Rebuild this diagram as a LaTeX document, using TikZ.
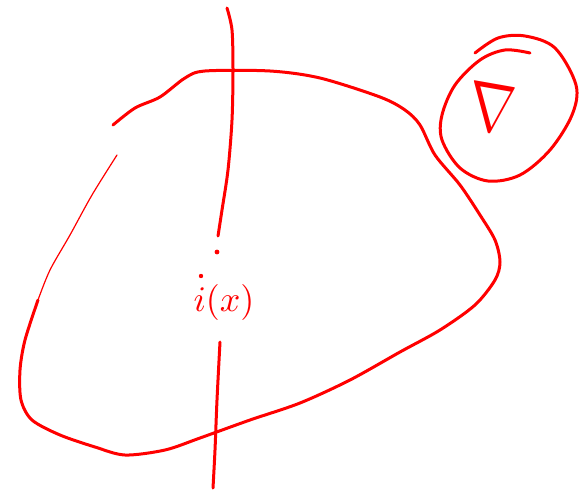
\documentclass[tikz,border=0pt]{standalone}
\usepackage{amsmath,amssymb}
\begin{document}
\begin{tikzpicture}[x=1pt,y=-1pt,
  ink/.style={draw=red,line width=3pt,line cap=round,line join=round},
  thinink/.style={draw=red,line width=1.2pt,line cap=round},
  lbl/.style={text=red,inner sep=0pt}]
\useasboundingbox (0,0) rectangle (586,498);
% main blob
\draw[ink] plot[smooth,tension=0.5] coordinates {(113,125) (135,108) (160,97) (185,78) (205,71) (270,71) (320,78) (380,97) (405,110) (420,125) (435,155) (460,185) (480,215) (495,240) (500,262) (495,280) (475,305) (440,330) (400,352) (350,380) (300,403) (250,420) (200,438) (165,450) (125,455) (95,447) (60,435) (32,420) (21,400) (20,370) (25,340) (38,300)};
\draw[thinink] plot[smooth,tension=0.5] coordinates {(38,300) (50,270) (70,235) (92,195) (117,155)};
% vertical line
\draw[ink] plot[smooth,tension=0.5] coordinates {(227,8) (232,30) (233,70) (232,120) (228,170) (222,210) (218,236)};
\fill[red] (217,252) circle (2.4);
\fill[red] (201,276) circle (2.2);
\draw[ink] plot[smooth,tension=0.5] coordinates {(220,342) (217,400) (215,450) (213,488)};
% label
\node[lbl,scale=3.6] (ix) at (224,302) {$i(x)$};
% circle spiral
\draw[ink] plot[smooth,tension=0.55] coordinates {(530,53) (505,50) (480,60) (455,85) (442,115) (442,140) (460,168) (488,181) (520,175) (550,150) (572,115) (576,85) (555,48) (525,36) (498,38) (475,53)};
\node[lbl,xscale=5.6,yscale=7,rotate=-8] (nabla) at (492,108) {$\nabla$};
\end{tikzpicture}
\end{document}
